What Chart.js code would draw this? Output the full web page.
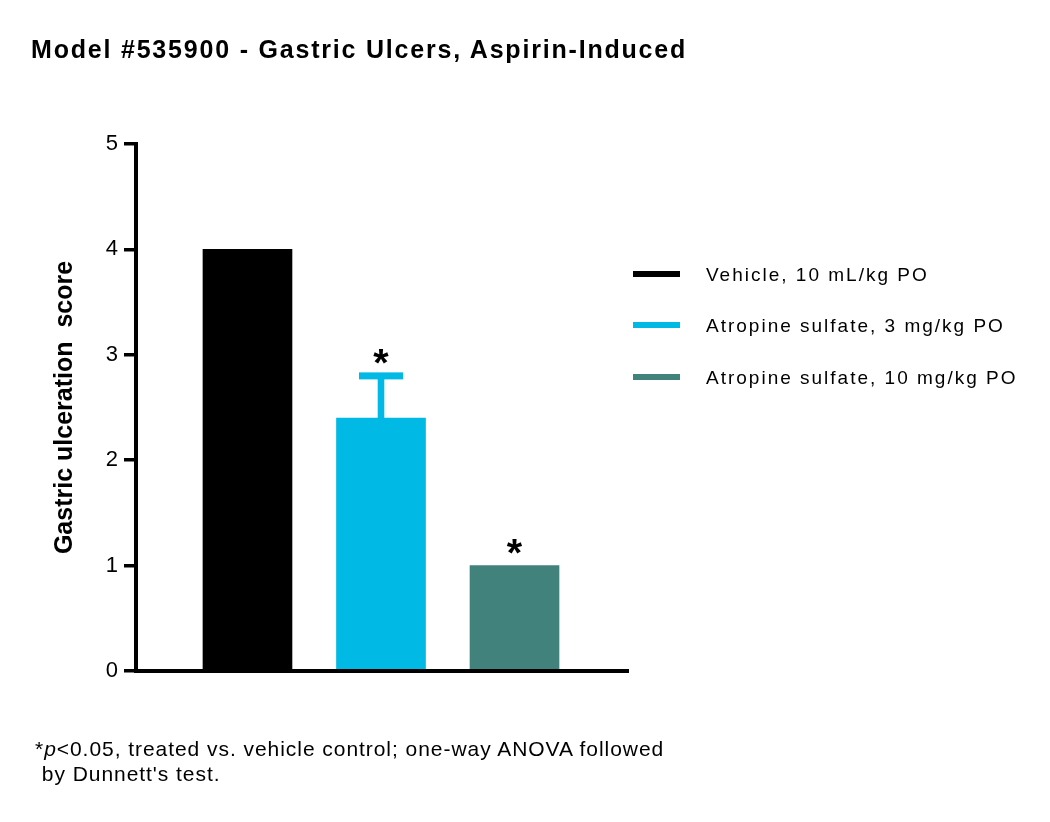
<!DOCTYPE html>
<html>
<head>
<meta charset="utf-8">
<title>Model #535900 - Gastric Ulcers, Aspirin-Induced</title>
<script src="https://cdn.jsdelivr.net/npm/chart.js@4.4.1/dist/chart.umd.min.js"></script>
<style>
  body {
    margin: 0;
    background: #ffffff;
    color: #000000;
    font-family: "Liberation Sans", Arial, Helvetica, sans-serif;
  }

  #page {
    position: relative;
    width: 1050px;
    height: 822px;
    overflow: hidden;
  }

  #ulcer-chart {
    position: absolute;
    left: 0;
    top: 0;
  }

  .chart-title {
    position: absolute;
    left: 31px;
    top: 36.5px;
    font-size: 25px;
    line-height: 25px;
    font-weight: bold;
    letter-spacing: 1.8px;
    white-space: nowrap;
  }

  .legend-row {
    position: absolute;
    left: 633px;
    height: 19px;
  }

  .legend-swatch {
    position: absolute;
    left: 0;
    top: 6px;
    width: 47px;
    height: 6px;
  }

  .legend-text {
    position: absolute;
    left: 73px;
    top: 0;
    font-size: 19px;
    line-height: 19px;
    letter-spacing: 2px;
    white-space: nowrap;
  }

  .footnote {
    position: absolute;
    left: 35px;
    top: 735.7px;
    font-size: 21px;
    line-height: 25px;
    letter-spacing: 0.95px;
    white-space: nowrap;
  }
</style>
</head>
<body>
<div id="page">
  <canvas id="ulcer-chart" width="1050" height="822"></canvas>
  <div class="chart-title">Model #535900 - Gastric Ulcers, Aspirin-Induced</div>
  <div id="legend"></div>
  <div class="footnote">*<i>p</i>&lt;0.05, treated vs. vehicle control; one-way ANOVA followed<br>&nbsp;by Dunnett's test.</div>
</div>

<script>
const groupLabels = [
  "Vehicle, 10 mL/kg PO",
  "Atropine sulfate, 3 mg/kg PO",
  "Atropine sulfate, 10 mg/kg PO"
];
const meanScores = [4.0, 2.4, 1.0];
const errorUpper = [null, 2.8, null];
const significance = ["", "*", "*"];
const yTickValues = [0, 1, 2, 3, 4, 5];

const groupColors = ["#000000", "#00b9e4", "#42827d"];
const FONT_FAMILY = '"Liberation Sans", Arial, Helvetica, sans-serif';

function renderLegend() {
  const legendElement = document.getElementById("legend");

  groupLabels.forEach((label, index) => {
    const row = document.createElement("div");
    row.className = "legend-row";
    row.style.top = `${264.6 + index * 51.7}px`;

    const swatch = document.createElement("div");
    swatch.className = "legend-swatch";
    swatch.style.background = groupColors[index];

    const text = document.createElement("div");
    text.className = "legend-text";
    text.textContent = label;

    row.appendChild(swatch);
    row.appendChild(text);
    legendElement.appendChild(row);
  });
}

// error bar (upper only) and significance stars on top of the bars
const markerPlugin = {
  id: "markers",
  afterDatasetsDraw(chart) {
    const { ctx } = chart;
    const xScale = chart.scales.x;
    const yScale = chart.scales.y;

    ctx.save();

    groupLabels.forEach((label, index) => {
      const centerX = xScale.getPixelForValue(index + 1);
      let topValue = meanScores[index];

      if (errorUpper[index] !== null) {
        const capY = yScale.getPixelForValue(errorUpper[index]);
        const barTopY = yScale.getPixelForValue(meanScores[index]);

        ctx.fillStyle = groupColors[index];
        ctx.fillRect(centerX - 3.3, capY, 6.6, barTopY - capY);
        ctx.fillRect(centerX - 22, capY - 3.5, 44, 7);
        topValue = errorUpper[index];
      }

      if (significance[index]) {
        ctx.font = `bold 100px ${FONT_FAMILY}`;
        const probe = ctx.measureText(significance[index]);
        const inkHeight = probe.actualBoundingBoxAscent + probe.actualBoundingBoxDescent;
        const size = (100 * 15) / inkHeight;

        ctx.font = `bold ${size}px ${FONT_FAMILY}`;
        const metrics = ctx.measureText(significance[index]);
        const centerY = yScale.getPixelForValue(topValue) - 19;
        const baseline = centerY + (metrics.actualBoundingBoxAscent - metrics.actualBoundingBoxDescent) / 2;

        ctx.fillStyle = "#000000";
        ctx.textAlign = "center";
        ctx.textBaseline = "alphabetic";
        ctx.fillText(significance[index], centerX, baseline);
      }
    });

    ctx.restore();
  }
};

function createChart() {
  const canvas = document.getElementById("ulcer-chart");

  return new Chart(canvas, {
    type: "bar",
    data: {
      datasets: [
        {
          label: "Gastric ulceration score",
          data: meanScores.map((value, index) => ({ x: index + 1, y: value })),
          backgroundColor: groupColors,
          borderWidth: 0,
          barThickness: 89
        }
      ]
    },
    options: {
      responsive: false,
      animation: false,
      events: [],
      layout: {
        padding: { left: 0, top: 144, right: 422, bottom: 151 }
      },
      plugins: {
        legend: { display: false },
        tooltip: { enabled: false }
      },
      scales: {
        x: {
          type: "linear",
          offset: false,
          min: 0.165,
          max: 3.85,
          afterFit(scale) {
            scale.height = 0;
          },
          ticks: { display: false },
          grid: { display: false },
          border: { display: true, color: "#000000", width: 4, z: 1 }
        },
        y: {
          min: 0,
          max: 5,
          afterFit(scale) {
            scale.width = 136;
          },
          afterBuildTicks(scale) {
            scale.ticks = yTickValues.map((value) => ({ value }));
          },
          ticks: {
            color: "#000000",
            padding: 6,
            font: { family: FONT_FAMILY, size: 22 }
          },
          grid: {
            drawOnChartArea: false,
            drawTicks: true,
            tickLength: 12,
            lineWidth: 3.5,
            color: "#000000"
          },
          border: { display: true, color: "#000000", width: 4, z: 1 },
          title: {
            display: true,
            text: "Gastric ulceration  score",
            color: "#000000",
            font: { family: FONT_FAMILY, size: 25, weight: "bold" },
            padding: { top: 50, bottom: 0 }
          }
        }
      }
    },
    plugins: [markerPlugin]
  });
}

renderLegend();
createChart();
</script>
</body>
</html>
